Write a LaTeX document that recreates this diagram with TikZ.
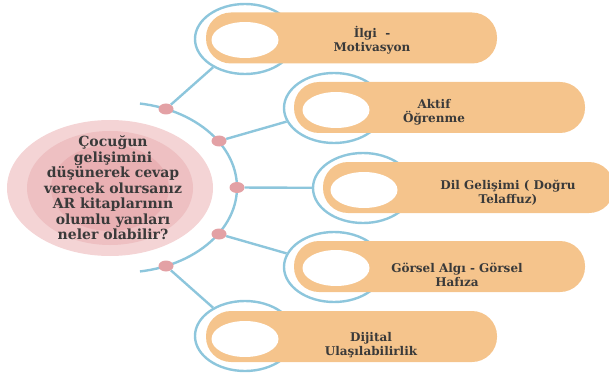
\documentclass[tikz,border=0pt]{standalone}
\usepackage{fontspec}
\setmainfont{DejaVu Serif}
\usepackage{xcolor}
\usepackage{tikz}
\usetikzlibrary{shapes.geometric, positioning}

\definecolor{linkblue}{HTML}{8DC6DC}
\definecolor{barorange}{HTML}{F5C48C}
\definecolor{knotpink}{HTML}{E3A1A5}
\definecolor{pinkA}{HTML}{F4D4D5}
\definecolor{pinkB}{HTML}{EEC0C2}
\definecolor{pinkC}{HTML}{E9B0B3}
\definecolor{txtgray}{HTML}{3A3A3A}

\begin{document}
\begin{tikzpicture}[x=1pt, y=-1pt,
  ring/.style={draw=linkblue, line width=2.4pt, ellipse, minimum width=100pt, minimum height=70pt, inner sep=0pt},
  pill/.style={fill=barorange, rectangle, rounded corners=25pt, minimum width=291pt, minimum height=51pt, inner sep=0pt},
  hole/.style={fill=white, ellipse, minimum width=67pt, minimum height=36pt, inner sep=0pt},
  knot/.style={fill=knotpink, ellipse, minimum width=15pt, minimum height=11pt, inner sep=0pt},
  link/.style={draw=linkblue, line width=2.4pt},
  lbl/.style={text=txtgray, font=\bfseries\fontsize{12}{14}\selectfont, align=center}]
\useasboundingbox (0,0) rectangle (609,374);

% question in the middle
\node[ellipse, fill=pinkA, minimum width=206pt, minimum height=136pt] (q1) at (110,188) {};
\node[ellipse, fill=pinkB, minimum width=166pt, minimum height=114pt] (q2) at (110,188) {};
\node[ellipse, fill=pinkC, minimum width=118pt, minimum height=86pt] (q3) at (110,188) {};
\node[text=txtgray, font=\bfseries\fontsize{14}{15.5}\selectfont, align=center] (quest) at (113,188)
  {Çocuğun\\gelişimini\\düşünerek cevap\\verecek olursanız\\AR kitaplarının\\olumlu yanları\\neler olabilir?};

% blue arc
\draw[link] plot[domain=-81:81, samples=60] ({122+115*cos(\x)}, {187.5+85*sin(\x)});

% answers
\node[ring] (r1) at (245,39) {};
\node[ring] (r2) at (334,108) {};
\node[ring] (r3) at (363,188) {};
\node[ring] (r4) at (334,267) {};
\node[ring] (r5) at (245,336) {};
\node[pill] (p1) at (351.5,38) {};
\node[pill] (p2) at (439.5,107.5) {};
\node[pill] (p3) at (468.5,187.5) {};
\node[pill] (p4) at (439.5,266.5) {};
\node[pill] (p5) at (351.5,336.5) {};
\node[hole] (w1) at (245,40) {};
\node[hole] (w2) at (336,110) {};
\node[hole] (w3) at (364,190) {};
\node[hole] (w4) at (336,268) {};
\node[hole] (w5) at (245,339) {};
\node[lbl] (t1) at (372,40) {İlgi~~-\\Motivasyon};
\node[lbl] (t2) at (434,112.5) {Aktif\\Öğrenme};
\node[lbl] (t3) at (508,192.5) {Dil Gelişimi ( Doğru\\Telaffuz)};
\node[lbl] (t4) at (457,275) {Görsel Algı - Görsel\\Hafıza};
\node[lbl] (t5) at (371,345) {Dijital\\Ulaşılabilirlik};

% dots on the arc
\node[knot] (k1) at (166,109) {};
\node[knot] (k2) at (219,141) {};
\node[knot] (k3) at (237,187.5) {};
\node[knot] (k4) at (219,234) {};
\node[knot] (k5) at (166,266) {};

\draw[link] (k1) -- (r1);
\draw[link] (k2) -- (r2);
\draw[link] (k3) -- (r3);
\draw[link] (k4) -- (r4);
\draw[link] (k5) -- (r5);
\end{tikzpicture}
\end{document}
